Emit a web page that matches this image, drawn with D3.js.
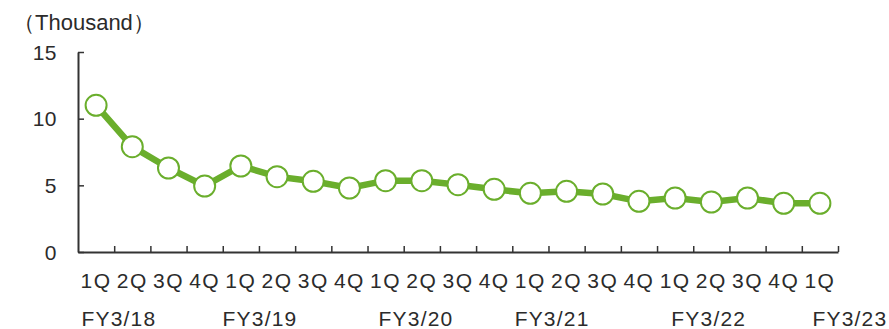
<!DOCTYPE html>
<html>
<head>
<meta charset="utf-8">
<script src="https://cdn.jsdelivr.net/npm/d3@7"></script>
<style>
  body { margin: 0; background: #fff; }
  svg text { font-family: "Liberation Sans", Arial, sans-serif; fill: #2b2b2b; }
</style>
</head>
<body>
<svg id="chart"></svg>
<script>
// datos del grafico
var quarters = ["1Q","2Q","3Q","4Q","1Q","2Q","3Q","4Q","1Q","2Q","3Q","4Q",
                "1Q","2Q","3Q","4Q","1Q","2Q","3Q","4Q","1Q"];
var values = [11.0, 7.9, 6.3, 4.95, 6.45, 5.65, 5.3, 4.8, 5.35, 5.35, 5.05, 4.7,
              4.4, 4.55, 4.35, 3.8, 4.05, 3.75, 4.05, 3.65, 3.65];
var fyLabels = ["FY3/18","FY3/19","FY3/20","FY3/21","FY3/22","FY3/23"];
var fyPos = [0.63, 4.53, 8.84, 12.6, 16.93, 20.83];   // posicion en categorias
var yTicks = [0, 5, 10, 15];

var w = 889, h = 329;
var marginLeft = 78, marginRight = 838, marginTop = 52, marginBottom = 252;
var green = "#6aae2c";
var axisColor = "#333";

var svg = d3.select("#chart").attr("width", w).attr("height", h);

// escalas
var xScale = d3.scaleLinear().domain([0, quarters.length]).range([marginLeft, marginRight]);
var yScale = d3.scaleLinear().domain([0, 15]).range([marginBottom, marginTop]);

function xc(i) { return xScale(i + 0.5); }

// eje de y
var yAxis = d3.axisRight(yScale)
    .tickValues(yTicks)
    .tickSizeInner(6)
    .tickSizeOuter(0)
    .tickFormat("");

var gy = svg.append("g")
    .attr("transform", "translate(" + marginLeft + ",0)")
    .call(yAxis);
gy.select(".domain").attr("stroke", axisColor).attr("stroke-width", 2);
gy.selectAll(".tick line").attr("stroke", axisColor).attr("stroke-width", 1.5);

svg.selectAll(".ylab")
    .data(yTicks)
    .enter().append("text")
    .attr("class", "ylab")
    .attr("x", marginLeft - 21)
    .attr("y", d => yScale(d))
    .attr("dy", "0.36em")
    .attr("text-anchor", "end")
    .style("font-size", "21px")
    .style("letter-spacing", "0.5px")
    .text(d => d);

// eje de x
var xAxis = d3.axisTop(xScale)
    .tickValues(d3.range(1, quarters.length + 1))
    .tickSizeInner(6)
    .tickSizeOuter(0)
    .tickFormat("");

var gx = svg.append("g")
    .attr("transform", "translate(0," + marginBottom + ")")
    .call(xAxis);
gx.select(".domain").attr("stroke", axisColor).attr("stroke-width", 2);
gx.selectAll(".tick line").attr("stroke", axisColor).attr("stroke-width", 1.5);

svg.selectAll(".qlab")
    .data(quarters)
    .enter().append("text")
    .attr("class", "qlab")
    .attr("x", (d, i) => xc(i))
    .attr("y", 280)
    .attr("dy", "0.36em")
    .attr("text-anchor", "middle")
    .style("font-size", "21px")
    .style("letter-spacing", "1.5px")
    .text(d => d);

svg.selectAll(".fylab")
    .data(fyLabels)
    .enter().append("text")
    .attr("class", "fylab")
    .attr("x", (d, i) => xc(fyPos[i]))
    .attr("y", 318)
    .attr("dy", "0.36em")
    .attr("text-anchor", "middle")
    .style("font-size", "21px")
    .style("letter-spacing", "1.2px")
    .text(d => d);

// linea
var line = d3.line()
    .x((d, i) => xc(i))
    .y(d => yScale(d));

svg.append("path")
    .datum(values)
    .attr("fill", "none")
    .attr("stroke", green)
    .attr("stroke-width", 6.5)
    .attr("d", line);

svg.selectAll(".pt")
    .data(values)
    .enter().append("circle")
    .attr("class", "pt")
    .attr("cx", (d, i) => xc(i))
    .attr("cy", d => yScale(d))
    .attr("r", 10.5)
    .attr("fill", "#fff")
    .attr("stroke", green)
    .attr("stroke-width", 2);

// unidad
svg.append("text")
    .attr("x", 13)
    .attr("y", 22)
    .attr("dy", "0.36em")
    .style("font-size", "22px")
    .text("（Thousand）");
</script>
</body>
</html>
